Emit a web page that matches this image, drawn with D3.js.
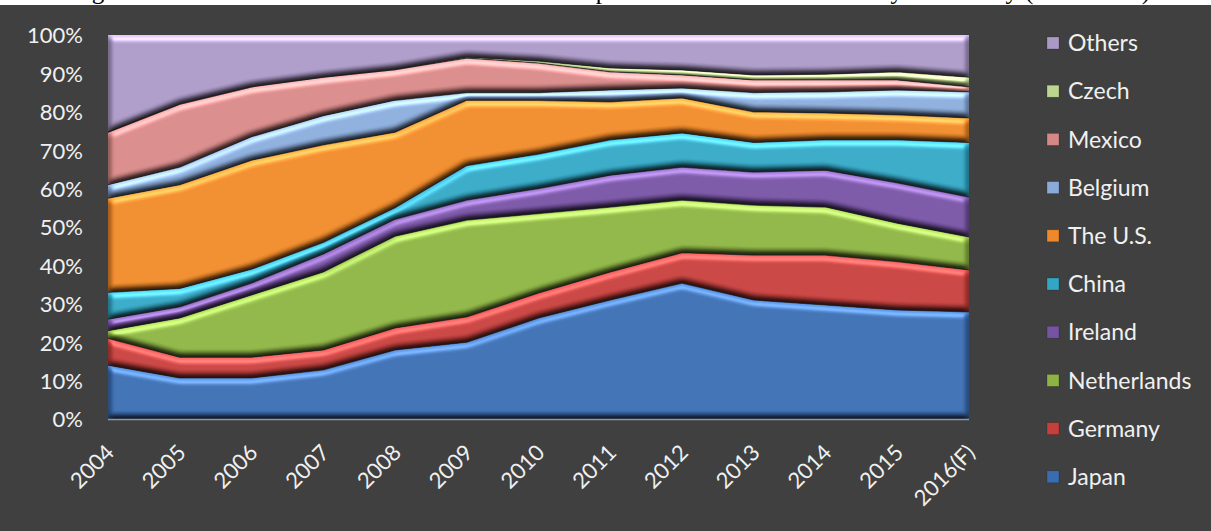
<!DOCTYPE html>
<html><head><meta charset="utf-8">
<script src="https://cdn.jsdelivr.net/npm/d3@7"></script>
<style>
html,body{margin:0;padding:0;background:#404040;}
svg{display:block;}
</style></head>
<body>
<svg id="chart" width="1211" height="531"></svg>
<script>
const years = ["2004","2005","2006","2007","2008","2009","2010","2011","2012","2013","2014","2015","2016(F)"];
const countries = ["Japan","Germany","Netherlands","Ireland","China","The U.S.","Belgium","Mexico","Czech","Others"];
const japan       = [14,10.7,10.7,12.8,18,20,26.3,31,35.4,31,29.7,28.4,27.9];
const germany     = [7,5.4,5.4,5.2,5.7,6.6,6.5,7.3,7.9,11.7,13,12.6,10.9];
const netherlands = [2,10.2,16.2,20.3,23.9,25.2,20.7,16.9,13.7,13,12.5,10,8.6];
const ireland     = [3,2.9,3.1,4.7,4.4,5.2,6.5,8.3,8.6,8.6,9.6,10.5,10.4];
const china       = [7,4.8,3.6,3,3,9,9,9.2,8.9,7.7,7.9,11.2,14.2];
const usa         = [24.5,27,28.4,25.4,19.7,17,14,9.9,9.1,8,7,6.5,6.4];
const belgium     = [3.5,4.6,6.1,7.6,8.3,2,2,3.1,2.6,5,5.5,6.5,6.8];
const mexico      = [13.7,16.4,13,10,8,9,7.7,4.7,3.4,3.3,3.1,2.6,1.3];
const czech       = [0,0,0,0,0,0.2,0.5,1,1.3,1.3,1.5,2.1,2.5];
const others      = [25.3,18,13.5,11,9,5.8,6.8,8.6,9.1,10.4,10.2,9.6,11];
const seriesValues = [japan,germany,netherlands,ireland,china,usa,belgium,mexico,czech,others];
const colors = ["#3a6db0","#c5403d","#8cb343","#7753a3","#33a6c3","#ee8829","#8aabda","#d68887","#bcd58f","#aa98c6"];
const yTicks = [0,0.1,0.2,0.3,0.4,0.5,0.6,0.7,0.8,0.9,1];
const titleParts = [["Changes in the Market Share of Total",39],["Imports to Korea",568],["by",878],["Country",936],["(2004-2016)",1025]];

const svg = d3.select("#chart");
const W = 1211, H = 531;
const m = {left:108, right:969, top:35, bottom:419};

// background
svg.append("rect").attr("x",0).attr("y",0).attr("width",W).attr("height",H).attr("fill","#404040");
svg.append("rect").attr("x",0).attr("y",0).attr("width",W).attr("height",5).attr("fill","#ffffff");
// title cut off at the top edge (only descenders visible)
const tclip = svg.append("clipPath").attr("id","tclip");
tclip.append("rect").attr("x",0).attr("y",0).attr("width",W).attr("height",5);
const title = svg.append("text").attr("clip-path","url(#tclip)")
  .attr("y",-1.5).attr("font-family","Liberation Serif, serif").attr("font-size",25).attr("fill","#000");
titleParts.forEach(p => title.append("tspan").attr("x",p[1]).text(p[0]));

const defs = svg.append("defs");
const f = defs.append("filter").attr("id","bevel").attr("x","-5%").attr("y","-5%").attr("width","110%").attr("height","110%")
  .attr("color-interpolation-filters","sRGB");
f.append("feGaussianBlur").attr("in","SourceAlpha").attr("stdDeviation",3).attr("result","b");
const dl = f.append("feDiffuseLighting").attr("in","b").attr("surfaceScale",4).attr("diffuseConstant",1)
  .attr("lighting-color","#ffffff").attr("result","d");
dl.append("feDistantLight").attr("azimuth",270).attr("elevation",55);
f.append("feComposite").attr("in","SourceGraphic").attr("in2","d").attr("operator","arithmetic")
  .attr("k1",1.18).attr("k2",0).attr("k3",0).attr("k4",0).attr("result","lit");
const sl = f.append("feSpecularLighting").attr("in","b").attr("surfaceScale",4).attr("specularConstant",0.45)
  .attr("specularExponent",16).attr("lighting-color","#ffffff").attr("result","s");
sl.append("feDistantLight").attr("azimuth",270).attr("elevation",40);
f.append("feComposite").attr("in","s").attr("in2","SourceAlpha").attr("operator","in").attr("result","s2");
f.append("feComposite").attr("in","lit").attr("in2","s2").attr("operator","arithmetic")
  .attr("k1",0).attr("k2",1).attr("k3",0.5).attr("k4",0).attr("result","out");
f.append("feComposite").attr("in","out").attr("in2","SourceAlpha").attr("operator","in");

const x = d3.scalePoint().domain(years).range([m.left, m.right]);
const y = d3.scaleLinear().domain([0,1]).range([m.bottom, m.top]);

const table = years.map((yr,i) => {
  const o = {year: yr};
  countries.forEach((c,j) => o[c] = seriesValues[j][i]);
  return o;
});
const stacked = d3.stack().keys(countries).offset(d3.stackOffsetExpand)(table);

const area = d3.area().x(d => x(d.data.year)).y0(d => y(d[0])).y1(d => y(d[1]));
const topLine = d3.line().x(d => x(d.data.year)).y(d => y(d[1]));

const g = svg.append("g");
g.selectAll("path.area").data(stacked).join("path").attr("class","area")
  .attr("d", area).attr("fill", (d,i) => colors[i]).attr("filter","url(#bevel)");
g.selectAll("path.edge").data(stacked.slice(0, stacked.length-1)).join("path").attr("class","edge")
  .attr("d", topLine).attr("fill","none").attr("stroke","rgba(25,25,25,0.6)").attr("stroke-width",1.2);

// axis line
svg.append("line").attr("x1",m.left).attr("x2",m.right).attr("y1",m.bottom+0.5).attr("y2",m.bottom+0.5)
  .attr("stroke","#8c99ad").attr("stroke-width",1.5);

// y axis labels
const yAxis = d3.axisLeft(y).tickValues(yTicks).tickFormat(d3.format(".0%")).tickSize(0).tickPadding(0);
const ya = svg.append("g").attr("transform",`translate(${83},0)`).call(yAxis);
ya.select(".domain").remove();
ya.selectAll("text").attr("fill","#f0f0f0").attr("font-family","Lato, 'Open Sans', sans-serif").attr("font-size",22).attr("dy","0.36em");

// x axis labels
const xAxis = d3.axisBottom(x).tickSize(0).tickPadding(0);
const xa = svg.append("g").attr("transform",`translate(0,${m.bottom})`).call(xAxis);
xa.select(".domain").remove();
xa.selectAll("text").attr("fill","#f0f0f0").attr("font-family","Lato, 'Open Sans', sans-serif").attr("font-size",22)
  .attr("text-anchor","end").attr("dy",0).attr("y",0)
  .attr("transform","translate(7,35) rotate(-45)");

// legend
const lg = svg.append("g");
const legendOrder = countries.map((c,i)=>({c, col: colors[i]})).reverse();
const items = lg.selectAll("g").data(legendOrder).join("g")
  .attr("transform",(d,i)=>`translate(1047,${43 + i*48.2})`);
items.append("rect").attr("x",0).attr("y",-6).attr("width",12).attr("height",12).attr("fill",d=>d.col)
  .attr("stroke","rgba(0,0,0,0.3)").attr("stroke-width",0.6);
items.append("text").attr("x",21).attr("dy","0.36em").attr("fill","#f0f0f0")
  .attr("font-family","Lato, 'Open Sans', sans-serif").attr("font-size",23).text(d=>d.c);
</script>
</body></html>
